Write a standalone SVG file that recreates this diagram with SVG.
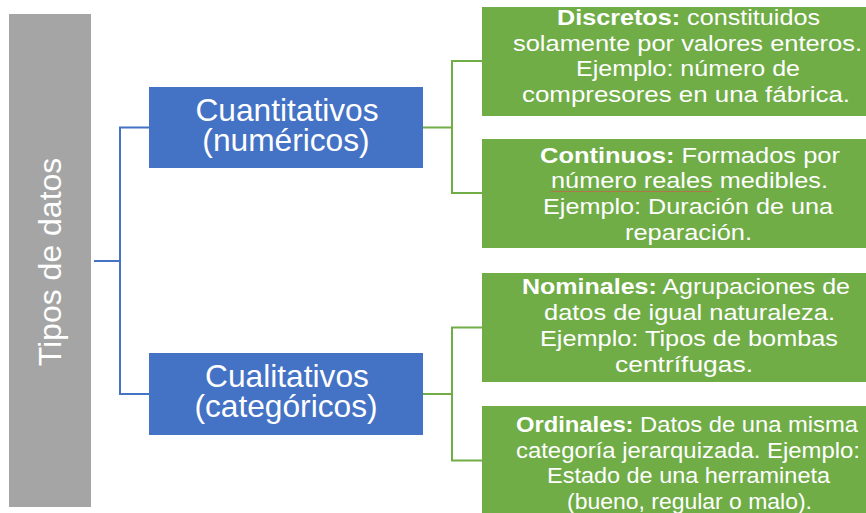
<svg xmlns="http://www.w3.org/2000/svg" width="866" height="513" viewBox="0 0 866 513">
<style>
.t{font-family:"Liberation Sans",Arial,sans-serif;fill:#fff;text-anchor:middle}
.s{font-family:"Liberation Sans",Arial,sans-serif;fill:#fff;font-size:22px}
.bl{font-size:31.7px}
.b{font-weight:bold}
.blue{fill:#4472C4}
.green{fill:#70AD47}
.cb{stroke:#4472C4;stroke-width:2;fill:none}
.cg{stroke:#70AD47;stroke-width:2;fill:none}
</style>
<rect width="866" height="513" fill="#fff"/>
<g id="connectors">
<path class="cb" d="M94,261H120M120,127.5V394M119,127.5H149M119,394H149"/>
<path class="cg" d="M423,127.5H452M452,61V193M451,61H482M451,193H482"/>
<path class="cg" d="M423,394H452M452,327.5V460.5M451,327.5H482M451,460.5H482"/>
</g>
<g id="tipos">
<rect x="9" y="14" width="82" height="493" fill="#A5A5A5"/>
<text class="t" transform="translate(61,262) rotate(-90)" font-size="32">Tipos de datos</text>
</g>
<g id="cuantitativos">
<rect class="blue" x="149" y="87" width="274" height="81"/>
<text class="t bl" x="287" y="121">Cuantitativos</text>
<text class="t bl" x="286" y="151">(numéricos)</text>
</g>
<g id="cualitativos">
<rect class="blue" x="149" y="353" width="274" height="82"/>
<text class="t bl" x="287" y="387">Cualitativos</text>
<text class="t bl" x="286" y="417">(categóricos)</text>
</g>
<g id="discretos">
<rect class="green" x="482" y="7" width="400" height="109"/>
<text class="s" x="557" y="25" textLength="263" lengthAdjust="spacingAndGlyphs"><tspan class="b">Discretos:</tspan> constituidos</text>
<text class="s" x="513" y="50.5" textLength="349" lengthAdjust="spacingAndGlyphs">solamente por valores enteros.</text>
<text class="s" x="576" y="76" textLength="224" lengthAdjust="spacingAndGlyphs">Ejemplo: número de</text>
<text class="s" x="522" y="101.5" textLength="328" lengthAdjust="spacingAndGlyphs">compresores en una fábrica.</text>
</g>
<g id="continuos">
<rect class="green" x="482" y="139" width="400" height="109"/>
<text class="s" x="540" y="162.5" textLength="300" lengthAdjust="spacingAndGlyphs"><tspan class="b">Continuos:</tspan> Formados por</text>
<text class="s" x="551" y="188" textLength="277" lengthAdjust="spacingAndGlyphs">número reales medibles.</text>
<text class="s" x="543" y="214" textLength="290" lengthAdjust="spacingAndGlyphs">Ejemplo: Duración de una</text>
<text class="s" x="625" y="240" textLength="127" lengthAdjust="spacingAndGlyphs">reparación.</text>
<line x1="551" y1="191.5" x2="712" y2="191.5" stroke="#B0784A" stroke-width="1"/>
</g>
<g id="nominales">
<rect class="green" x="482" y="273" width="400" height="109"/>
<text class="s" x="522" y="293.5" textLength="328" lengthAdjust="spacingAndGlyphs"><tspan class="b">Nominales:</tspan> Agrupaciones de</text>
<text class="s" x="544" y="320" textLength="291" lengthAdjust="spacingAndGlyphs">datos de igual naturaleza.</text>
<text class="s" x="540" y="346" textLength="298" lengthAdjust="spacingAndGlyphs">Ejemplo: Tipos de bombas</text>
<text class="s" x="615" y="372" textLength="138" lengthAdjust="spacingAndGlyphs">centrífugas.</text>
</g>
<g id="ordinales">
<rect class="green" x="482" y="406" width="400" height="109"/>
<text class="s" x="516" y="431.5" textLength="342" lengthAdjust="spacingAndGlyphs"><tspan class="b">Ordinales:</tspan> Datos de una misma</text>
<text class="s" x="516" y="457.5" textLength="344" lengthAdjust="spacingAndGlyphs">categoría jerarquizada. Ejemplo:</text>
<text class="s" x="547" y="483" textLength="283" lengthAdjust="spacingAndGlyphs">Estado de una herramineta</text>
<text class="s" x="567" y="508.5" textLength="245" lengthAdjust="spacingAndGlyphs">(bueno, regular o malo).</text>
</g>
</svg>
